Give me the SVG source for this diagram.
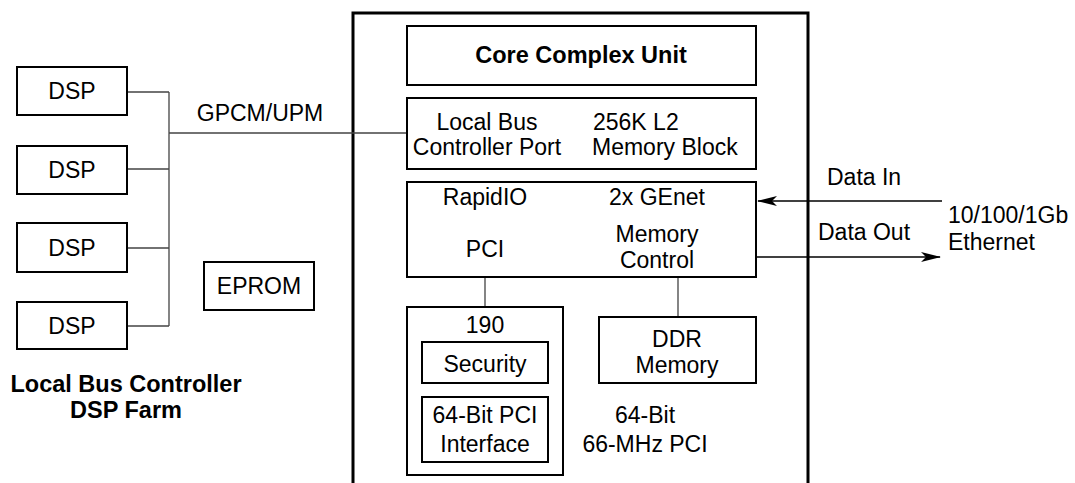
<svg xmlns="http://www.w3.org/2000/svg" width="1075" height="483" viewBox="0 0 1075 483">
<style>
text{font-family:"Liberation Sans",Arial,sans-serif;font-size:23px;fill:#000}
.b{font-weight:bold;font-size:23.5px}
.m{text-anchor:middle}
.box{fill:#fff;stroke:#000;stroke-width:2}
.wire{fill:none;stroke:#444;stroke-width:1.3}
.arr{fill:none;stroke:#000;stroke-width:1.3}
</style>
<defs>
<marker id="ah" viewBox="0 0 20 10" refX="19" refY="5" markerWidth="20" markerHeight="10" markerUnits="userSpaceOnUse" orient="auto">
<path d="M0,0 L20,5 L0,10 L5,5 Z" fill="#000"/>
</marker>
</defs>
<g id="chip">
<path d="M353,483 V13 H808 V483" fill="none" stroke="#000" stroke-width="3"/>
</g>
<g id="connectors">
<path class="wire" d="M127,92 H169 M127,169 H169 M127,248 H169 M127,326 H169 M169,92 V326 M169,133 H407"/>
<path class="wire" d="M485,277 V307 M678,277 V317"/>
<path class="arr" d="M942,201 H758" marker-end="url(#ah)"/>
<path class="arr" d="M757,257 H940" marker-end="url(#ah)"/>
</g>
<g id="dsp1"><rect class="box" x="17" y="67" width="110" height="48"/><text class="m" x="72" y="99">DSP</text></g>
<g id="dsp2"><rect class="box" x="17" y="146" width="110" height="48"/><text class="m" x="72" y="178">DSP</text></g>
<g id="dsp3"><rect class="box" x="17" y="223" width="110" height="49"/><text class="m" x="72" y="256">DSP</text></g>
<g id="dsp4"><rect class="box" x="17" y="302" width="110" height="47"/><text class="m" x="72" y="334">DSP</text></g>
<g id="eprom"><rect class="box" x="204" y="262" width="110" height="48"/><text class="m" x="259" y="294">EPROM</text></g>
<g id="farm-label"><text class="b m" x="126" y="392">Local Bus Controller</text><text class="b m" x="126" y="418">DSP Farm</text></g>
<g id="bus-label"><text class="m" x="260" y="121">GPCM/UPM</text></g>
<g id="core"><rect class="box" x="407" y="26" width="349" height="59"/><text class="b m" x="581" y="63">Core Complex Unit</text></g>
<g id="localbus"><rect class="box" x="407" y="98" width="349" height="71"/>
<text class="m" x="487" y="130">Local Bus</text><text class="m" x="487" y="155">Controller Port</text>
<text x="593" y="130">256K L2</text><text x="592" y="155">Memory Block</text></g>
<g id="periph"><rect class="box" x="407" y="182" width="349" height="95"/>
<text class="m" x="485" y="205">RapidIO</text><text class="m" x="657" y="205">2x GEnet</text>
<text class="m" x="485" y="257">PCI</text><text class="m" x="657" y="242">Memory</text><text class="m" x="657" y="268">Control</text></g>
<g id="sec190"><rect class="box" x="407" y="307" width="156" height="168"/><text class="m" x="485" y="333">190</text>
<rect class="box" x="422" y="342" width="126" height="41"/><text class="m" x="485" y="372">Security</text>
<rect class="box" x="422" y="397" width="126" height="65"/><text class="m" x="485" y="423">64-Bit PCI</text><text class="m" x="485" y="452">Interface</text></g>
<g id="ddr"><rect class="box" x="599" y="317" width="157" height="66"/><text class="m" x="677" y="347">DDR</text><text class="m" x="677" y="373">Memory</text></g>
<g id="pci-label"><text class="m" x="645" y="423">64-Bit</text><text class="m" x="645" y="452">66-MHz PCI</text></g>
<g id="eth"><text x="827" y="185">Data In</text><text x="818" y="240">Data Out</text>
<text x="948" y="223">10/100/1Gb</text><text x="948" y="250">Ethernet</text></g>
</svg>
